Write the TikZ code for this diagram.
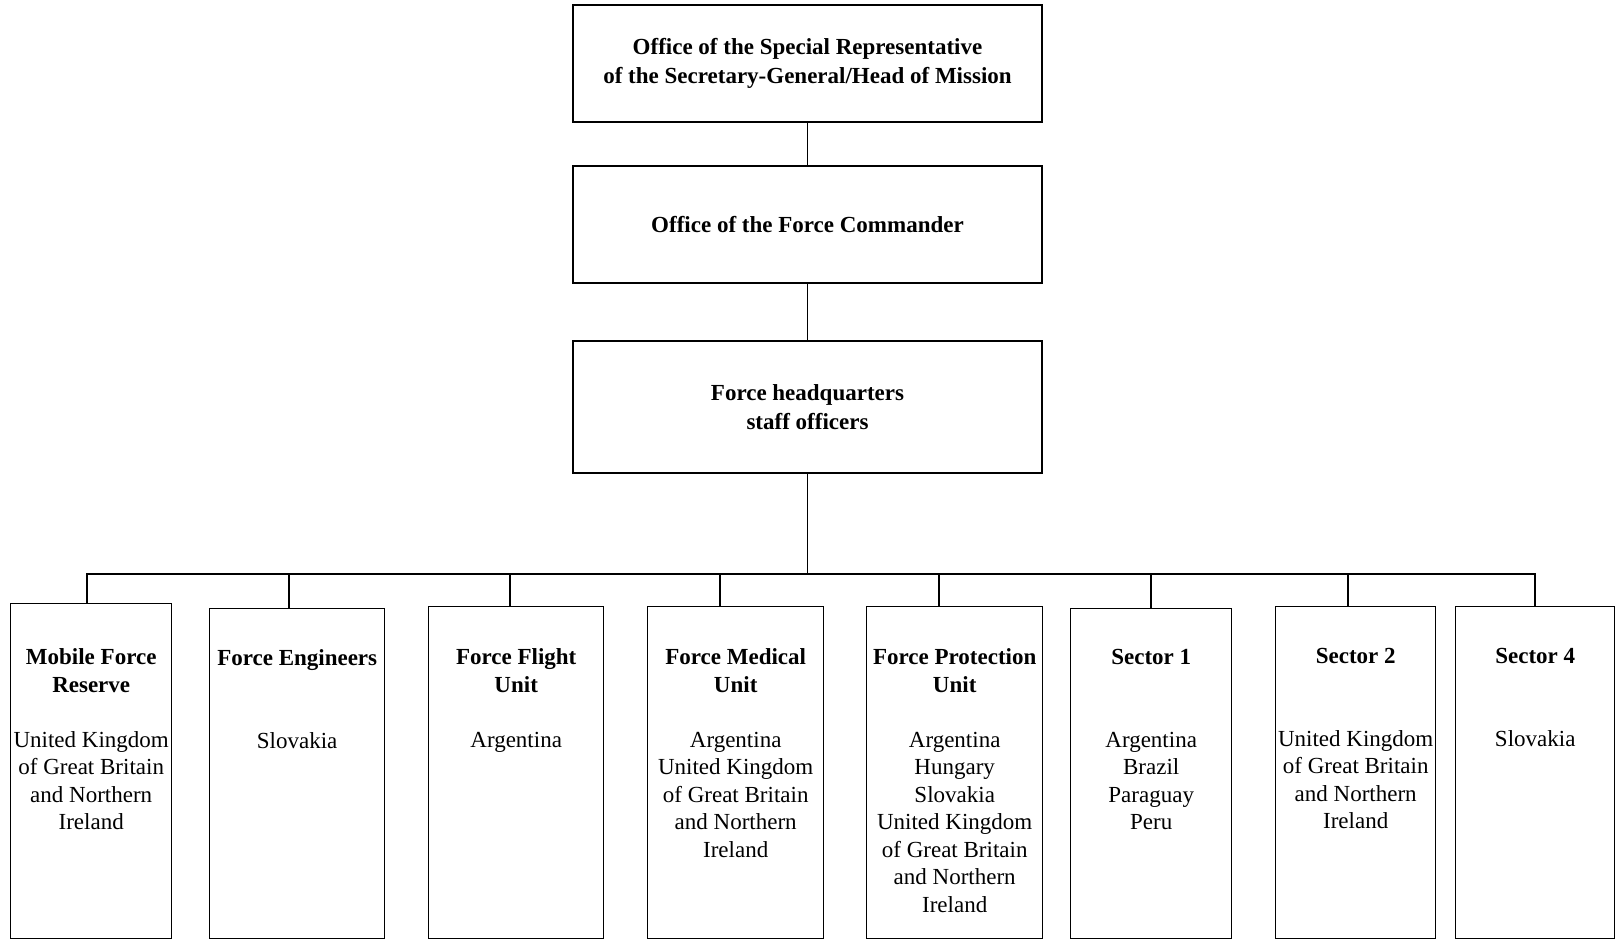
\documentclass[tikz,border=0pt]{standalone}
\usepackage{fontspec}
\setmainfont{Liberation Serif}
\begin{document}
\begin{tikzpicture}[x=1pt, y=-1pt, line width=1.4pt]
        \tikzset{
            office/.style={draw, minimum width=469pt, align=center, inner sep=0pt, font=\fontsize{23}{29}\selectfont\bfseries},
            unit/.style={draw, inner sep=0pt, anchor=south west},
            txt/.style={align=center, inner sep=0pt, anchor=north, font=\fontsize{23}{27.5}\selectfont}
        }
        \useasboundingbox (0,0) rectangle (1615,940);

        \node[office, minimum height=117pt] (srsg) at (807.5,63.5) {Office of the Special Representative\\of the Secretary-General/Head of Mission};
        \node[office, minimum height=117pt] (fc) at (807.5,224.5) {Office of the Force Commander};
        \node[office, minimum height=132pt] (hq) at (807.5,407) {Force headquarters\\staff officers};

        \node[unit, minimum width=161pt, minimum height=335pt] (mfr)  at (10,939) {};
        \node[unit, minimum width=175pt, minimum height=330pt] (eng)  at (209,939) {};
        \node[unit, minimum width=175pt, minimum height=332pt] (flt)  at (428,939) {};
        \node[unit, minimum width=176pt, minimum height=332pt] (med)  at (647,939) {};
        \node[unit, minimum width=176pt, minimum height=332pt] (prot) at (866,939) {};
        \node[unit, minimum width=161pt, minimum height=330pt] (sec1) at (1070,939) {};
        \node[unit, minimum width=160pt, minimum height=332pt] (sec2) at (1275,939) {};
        \node[unit, minimum width=159pt, minimum height=332pt] (sec4) at (1455,939) {};

        \node[txt] (mfr-t)  at (mfr.north |- 0,648)  {\textbf{Mobile Force}\\\textbf{Reserve}\\[27.5pt]United Kingdom\\of Great Britain\\and Northern\\Ireland};
        \node[txt] (eng-t)  at (eng.north |- 0,649)  {\textbf{Force Engineers}\\[55pt]Slovakia};
        \node[txt] (flt-t)  at (flt.north |- 0,648)  {\textbf{Force Flight}\\\textbf{Unit}\\[27.5pt]Argentina};
        \node[txt] (med-t)  at (med.north |- 0,648)  {\textbf{Force Medical}\\\textbf{Unit}\\[27.5pt]Argentina\\United Kingdom\\of Great Britain\\and Northern\\Ireland};
        \node[txt] (prot-t) at (prot.north |- 0,648) {\textbf{Force Protection}\\\textbf{Unit}\\[27.5pt]Argentina\\Hungary\\Slovakia\\United Kingdom\\of Great Britain\\and Northern\\Ireland};
        \node[txt] (sec1-t) at (sec1.north |- 0,649) {\textbf{Sector 1}\\[55pt]Argentina\\Brazil\\Paraguay\\Peru};
        \node[txt] (sec2-t) at (sec2.north |- 0,648) {\textbf{Sector 2}\\[55pt]United Kingdom\\of Great Britain\\and Northern\\Ireland};
        \node[txt] (sec4-t) at (sec4.north |- 0,648) {\textbf{Sector 4}\\[55pt]Slovakia};

        \draw (srsg) -- (fc);
        \draw (fc) -- (hq);
        \draw (hq.south) -- (807.5,574) coordinate (bus);
        \foreach \n/\cx in {mfr/87, eng/289, flt/510, med/720, prot/939, sec1/1151, sec2/1348, sec4/1535}
            \draw (\cx,0 |- \n.north) |- (bus);
\end{tikzpicture}
\end{document}
